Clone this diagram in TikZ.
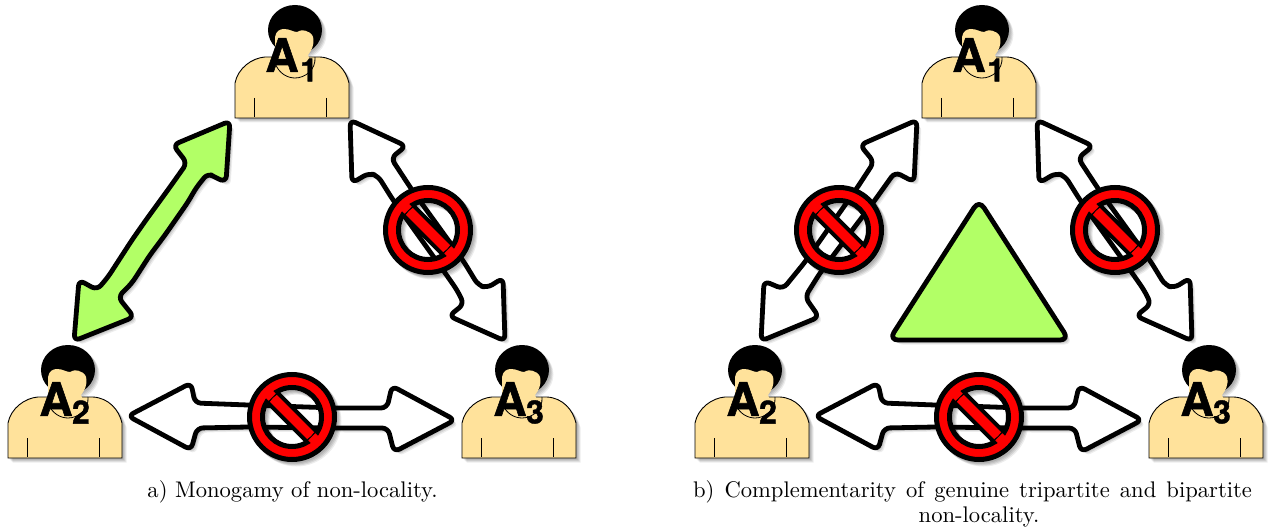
\documentclass[tikz,border=0pt]{standalone}
\usepackage{fontspec}
\newfontfamily\agentfont[BoldFeatures={FakeBold=1.2}]{TeX Gyre Heros}
\definecolor{peach}{HTML}{FFE29B}
\definecolor{lime}{HTML}{B2FF66}
\newcommand{\softshadow}[2]{%
  \fill[black,opacity=.09,shift={(1.5,1.5)},#1]#2;
  \fill[black,opacity=.09,shift={(2.5,2.5)},#1]#2;
  \fill[black,opacity=.09,shift={(3.5,3.5)},#1]#2;
  \fill[black,opacity=.07,shift={(4.5,4.5)},#1]#2;}
\newcommand{\bigarrow}[3][6pt]{%
  \softshadow{rounded corners=#1}{#3}
  \filldraw[line width=4.8pt,rounded corners=#1,line join=round,draw=black,fill=#2]#3;}
\newcommand{\nosign}[2]{%
  \begin{scope}[shift={(#1,#2)}]
    \softshadow{even odd rule}{(0,0) circle[radius=45] (0,0) circle[radius=27]}
    \filldraw[rotate=-45,fill=red,draw=black,line width=4pt] (-34,-7) rectangle (34,7);
    \filldraw[fill=red,draw=black,line width=5pt,even odd rule] (0,0) circle[radius=42.5] (0,0) circle[radius=29.5];
    \fill[red,rotate=-45] (-36,-5) rectangle (-28,5) (28,-5) rectangle (36,5);
  \end{scope}}
\tikzset{
  person/.pic={
    \softshadow{}{(235,118) -- (235,83) .. controls (238,68) and (252,58) .. (265,57) -- (320,57) .. controls (336,58) and (346,70) .. (349,83) -- (349,118) -- cycle}
    \softshadow{}{(295,30) ellipse[x radius=27,y radius=25]}
    \filldraw[fill=peach,draw=black,line width=.9pt] (235,118) -- (235,83) .. controls (238,68) and (252,58) .. (265,57) -- (320,57) .. controls (336,58) and (346,70) .. (349,83) -- (349,118) -- cycle;
    \draw[line width=.8pt] (254,98) -- (254,117) (326,98) -- (326,117);
    \fill[black] (295,30) ellipse[x radius=27,y radius=25];
    \fill[peach] (275,37) .. controls (276,31) and (280,29) .. (284,29) .. controls (290,29) and (293,32) .. (297,32) .. controls (300,29) and (311,30) .. (313,37) .. controls (315,45) and (311,51) .. (308,55) -- (310,60) -- (300,72) -- (280,68) -- (275,60) -- cycle;
    \draw[line width=.8pt] (275,63) .. controls (279,74) and (288,78) .. (295,78) .. controls (305,78) and (316,70) .. (315,57);
  },
  agentlabel/.style={inner sep=0pt,font=\agentfont\bfseries\fontsize{46}{46}\selectfont},
  agentsub/.style={inner sep=0pt,font=\agentfont\bfseries\fontsize{32}{32}\selectfont},
  captiontext/.style={inner sep=0pt,font=\fontsize{10}{12}\selectfont,scale=2.26,transform shape}
}
\begin{document}
\begin{tikzpicture}[x=1pt,y=-1pt]
\useasboundingbox[fill=white] (0,0) rectangle (1271,529);

% --- panel a
\pic at (0,0) {person};
\pic at (-227,340) {person};
\pic at (227,340) {person};
\node[agentlabel] (a1) at (282,55) {A};
\node[agentsub] (a1s) at (309,70) {1};
\node[agentlabel] (a2) at (56,399) {A};
\node[agentsub] (a2s) at (81,412) {2};
\node[agentlabel] (a3) at (510,399) {A};
\node[agentsub] (a3s) at (535,412) {3};

\bigarrow{lime}{(230,121) -- (226,182) -- (216,178) -- (208,173) -- (196,188) -- (188,202) -- (165,235) -- (150,255) -- (132,283) -- (118,297) -- (134,317) -- (74,341) -- (79,280) -- (97,290) -- (108,277) -- (132,240) -- (146,220) -- (170,187) -- (187,163) -- (173,145) -- cycle}
\bigarrow{white}{(350,120) -- (406,146) -- (391,158) -- (412,190) -- (464,262) -- (478,285) -- (487,288) -- (503,278) -- (505,341) -- (449,316) -- (464,304) -- (457,290) -- (443,270) -- (393,200) -- (378,176) -- (369,173) -- (352,183) -- cycle}
\bigarrow{white}{(128,416) -- (191,383) -- (195,403) -- (248,405) -- (335,408) -- (387,408) -- (392,386) -- (455,420) -- (394,452) -- (388,428) -- (335,428) -- (248,427) -- (197,428) -- (191,450) -- cycle}
\nosign{428}{230}
\nosign{292}{417}

% --- panel b
\pic at (687,0) {person};
\pic at (460,340) {person};
\pic at (914,340) {person};
\node[agentlabel] (b1) at (969,55) {A};
\node[agentsub] (b1s) at (996,70) {1};
\node[agentlabel] (b2) at (743,399) {A};
\node[agentsub] (b2s) at (768,412) {2};
\node[agentlabel] (b3) at (1197,399) {A};
\node[agentsub] (b3s) at (1222,412) {3};

\bigarrow{white}{(917,120) -- (914,182) -- (895,172) -- (875,200) -- (820,273) -- (805,297) -- (819,317) -- (761,341) -- (764,281) -- (783,289) -- (805,262) -- (857,188) -- (874,162) -- (860,145) -- cycle}
\bigarrow{white}{(1037,120) -- (1093,146) -- (1078,158) -- (1099,190) -- (1151,262) -- (1165,285) -- (1174,288) -- (1190,278) -- (1192,341) -- (1136,316) -- (1151,304) -- (1144,290) -- (1130,270) -- (1080,200) -- (1065,176) -- (1056,173) -- (1039,183) -- cycle}
\bigarrow{white}{(815,416) -- (878,383) -- (882,403) -- (935,405) -- (1022,408) -- (1074,408) -- (1079,386) -- (1142,420) -- (1081,452) -- (1075,428) -- (1022,428) -- (935,427) -- (884,428) -- (878,450) -- cycle}
\bigarrow[9pt]{lime}{(979,200) -- (1069,340) -- (889,340) -- cycle}
\nosign{839}{230}
\nosign{1115}{230}
\nosign{979}{417}

% --- captions
\node[captiontext,anchor=base] (capa) at (292.5,497) {a) Monogamy of non-locality.};
\node[captiontext,anchor=base] (capb) at (972.5,497) {\hbox to 247.3pt{b) Complementarity of genuine tripartite and bipartite}};
\node[captiontext,anchor=base] (capc) at (979,522) {non-locality.};
\end{tikzpicture}
\end{document}
